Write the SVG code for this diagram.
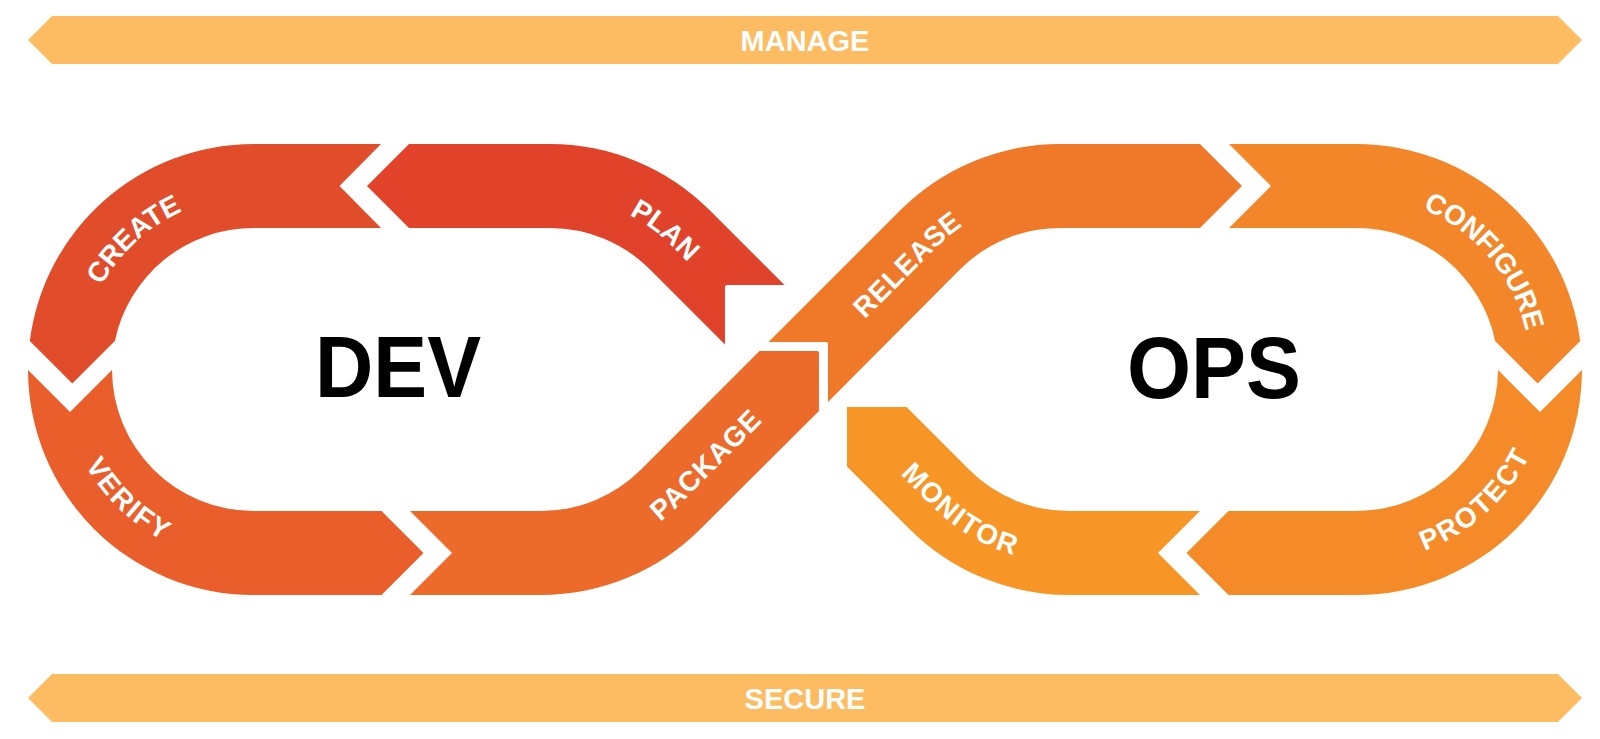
<svg xmlns="http://www.w3.org/2000/svg" width="1600" height="739" viewBox="0 0 1600 739">
  <style>
    .bar { fill: #FDBB62; }
    .bartxt { font-family: "Liberation Sans", Arial, sans-serif; font-weight: bold; font-size: 29px; fill: #FFFFFF; text-anchor: middle; }
    .lbl { font-family: "Liberation Sans", Arial, sans-serif; font-weight: bold; font-size: 28px; letter-spacing: 0.8px; fill: #FFFFFF; text-anchor: middle; dominant-baseline: central; }
    .big { font-family: "Liberation Sans", Arial, sans-serif; font-weight: bold; font-size: 87px; fill: #000000; }
  </style>
  <defs>
    <path id="tp-create" d="M70,369.5 A183.5,183.5 0 0 1 253.5,186"/>
    <path id="tp-verify" d="M70,369.5 A183.5,183.5 0 0 0 253.5,553"/>
    <path id="tp-configure" d="M1356.5,186 A183.5,183.5 0 0 1 1540,369.5"/>
    <path id="tp-protect" d="M1356.5,553 A183.5,183.5 0 0 0 1540,369.5"/>
    <path id="tp-plan" d="M409,186 L550,186 A183.5,183.5 0 0 1 679.75,239.75 L780,340"/>
    <path id="tp-release" d="M700,470 L930.25,239.75 A183.5,183.5 0 0 1 1060,186 L1200,186"/>
    <path id="tp-package" d="M410,553 L541,553 A183.5,183.5 0 0 0 670.75,499.25 L850,320"/>
    <path id="tp-monitor" d="M760,320 L939.25,499.25 A183.5,183.5 0 0 0 1069,553 L1200,553"/>
  </defs>
  <rect width="1600" height="739" fill="#FFFFFF"/>

  <g id="manage">
    <path class="bar" d="M28,40 L52,16 L1558,16 L1582,40 L1558,64 L52,64 Z"/>
    <text class="bartxt" x="805" y="50.5">MANAGE</text>
  </g>
  <g id="secure">
    <path class="bar" d="M28,698 L52,674 L1558,674 L1582,698 L1558,722 L52,722 Z"/>
    <text class="bartxt" x="805" y="708.5">SECURE</text>
  </g>

  <g id="plan">
    <path fill="#E0432A" d="M409,144 L550,144 A225.5,225.5 0 0 1 709.45,210.05 L784.5,285 L727,285 Q725,285 725,287 L725,344.5 L650.06,269.44 A141.5,141.5 0 0 0 550,228 L409,228 L367,186 Z"/>
    <text class="lbl"><textPath href="#tp-plan" startOffset="268">PLAN</textPath></text>
  </g>
  <g id="create">
    <path fill="#E14D2A" d="M381,144 L253.5,144 A225.5,225.5 0 0 0 29.8,341 L72.35,383.55 L114.9,341 A141.5,141.5 0 0 1 253.5,228 L381,228 L339.5,186 Z"/>
    <text class="lbl"><textPath href="#tp-create" startOffset="152">CREATE</textPath></text>
  </g>
  <g id="verify">
    <path fill="#E95E2A" d="M28,370 A225.5,225.5 0 0 0 253.5,595 L381.5,595 L423.5,553 L381.5,511 L253.5,511 A141.5,141.5 0 0 1 112,370 L70,412 Z"/>
    <text class="lbl"><textPath href="#tp-verify" startOffset="147">VERIFY</textPath></text>
  </g>
  <g id="package">
    <path fill="#EC6B2A" d="M410,511 L541,511 A141.5,141.5 0 0 0 641.06,469.56 L759.5,351 L817,351 Q819,351 819,353 L819,411 L700.45,528.95 A225.5,225.5 0 0 1 541,595 L410,595 L452,553 Z"/>
    <text class="lbl"><textPath href="#tp-package" startOffset="324">PACKAGE</textPath></text>
  </g>
  <g id="release">
    <path fill="#EF7829" d="M768.5,342 L900.55,210.05 A225.5,225.5 0 0 1 1060,144 L1200,144 L1242,186 L1200,228 L1060,228 A141.5,141.5 0 0 0 959.94,269.44 L828,402 L828,344 Q828,342 826,342 Z"/>
    <text class="lbl"><textPath href="#tp-release" startOffset="292">RELEASE</textPath></text>
  </g>
  <g id="configure">
    <path fill="#F38629" d="M1229,144 L1356.5,144 A225.5,225.5 0 0 1 1580.2,341 L1537.65,383.55 L1495.1,341 A141.5,141.5 0 0 0 1356.5,228 L1229,228 L1271,186 Z"/>
    <text class="lbl"><textPath href="#tp-configure" startOffset="160">CONFIGURE</textPath></text>
  </g>
  <g id="protect">
    <path fill="#F48B28" d="M1582,370 A225.5,225.5 0 0 1 1356.5,595 L1228.5,595 L1186.5,553 L1228.5,511 L1356.5,511 A141.5,141.5 0 0 0 1498,370 L1540,412 Z"/>
    <text class="lbl"><textPath href="#tp-protect" startOffset="135">PROTECT</textPath></text>
  </g>
  <g id="monitor">
    <path fill="#F79627" d="M1200,511 L1069,511 A141.5,141.5 0 0 1 968.94,469.56 L906.5,407 L847,407 L847,466.5 L909.55,528.95 A225.5,225.5 0 0 0 1069,595 L1200,595 L1158,553 Z"/>
    <text class="lbl"><textPath href="#tp-monitor" startOffset="277">MONITOR</textPath></text>
  </g>

  <g id="dev">
    <text class="big" x="315" y="397" textLength="166" lengthAdjust="spacingAndGlyphs">DEV</text>
  </g>
  <g id="ops">
    <text class="big" x="1127" y="398" textLength="174" lengthAdjust="spacingAndGlyphs">OPS</text>
  </g>
</svg>
